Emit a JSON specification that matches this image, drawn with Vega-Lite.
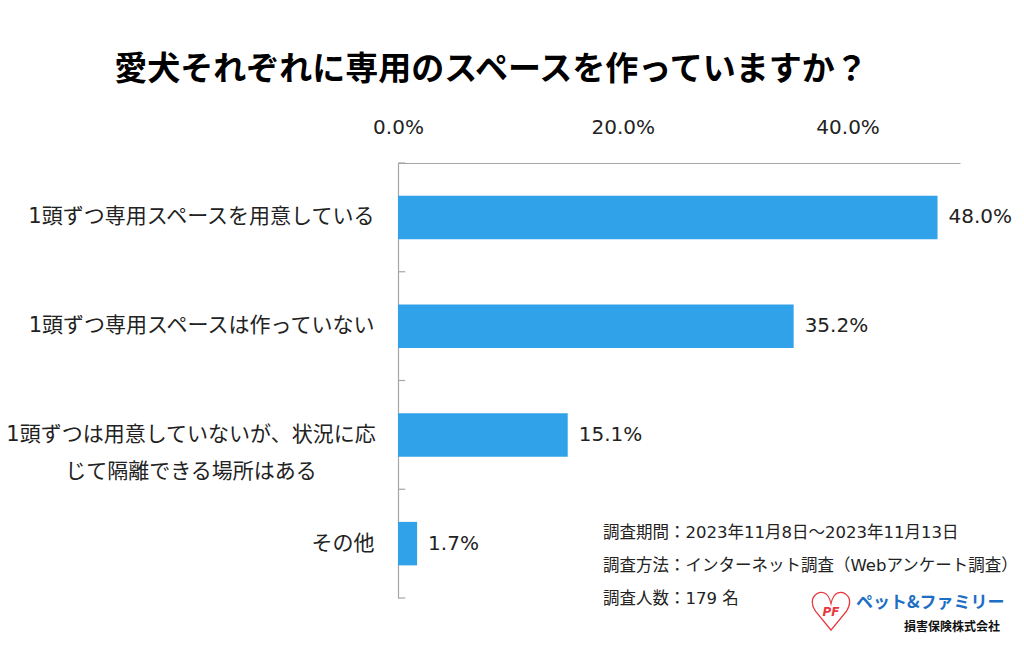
{
  "$schema": "https://vega.github.io/schema/vega-lite/v6.json",
  "width": 562,
  "height": 435,
  "autosize": "none",
  "padding": {"left": 398, "top": 163, "right": 64, "bottom": 48},
  "background": "white",
  "config": {
    "font": "DejaVu Sans, Noto Sans CJK JP",
    "view": {"stroke": null}
  },
  "title": {
    "text": "愛犬それぞれに専用のスペースを作っていますか？",
    "font": "Noto Sans CJK JP",
    "fontSize": 33,
    "fontWeight": "bold",
    "color": "#000000",
    "anchor": "middle",
    "frame": "group",
    "dx": -188,
    "offset": 30
  },
  "datasets": {
    "main": [
      {"cat": "1頭ずつ専用スペースを用意している", "disp": "", "value": 0.480},
      {"cat": "1頭ずつ専用スペースは作っていない", "disp": "", "value": 0.352},
      {"cat": "1頭ずつは用意していないが、状況に応じて隔離できる場所はある", "disp": "1頭ずつは用意していないが、状況に応\nじて隔離できる場所はある", "value": 0.151},
      {"cat": "その他", "disp": "", "value": 0.017}
    ],
    "notes": [
      {"note": "調査期間：2023年11月8日～2023年11月13日\n調査方法：インターネット調査（Webアンケート調査）\n調査人数：179 名", "brand": "ペット&ファミリー", "company": "損害保険株式会社", "heart": "♡", "pf": "PF"}
    ]
  },
  "layer": [
    {
      "data": {"name": "main"},
      "mark": {"type": "bar", "color": "#30a2e9"},
      "encoding": {
        "y": {
          "field": "cat",
          "type": "nominal",
          "sort": null,
          "scale": {"paddingInner": 0.6, "paddingOuter": 0.3},
          "axis": {
            "title": null,
            "orient": "left",
            "labelExpr": "indexof(datum.label, '状況') >= 0 ? '' : datum.label",
            "labelFont": "DejaVu Sans, Noto Sans CJK JP",
            "labelFontSize": 21,
            "labelColor": "#222222",
            "labelPadding": 24,
            "labelLimit": 400,
            "ticks": false,
            "domainColor": "#a6a6a6",
            "domainWidth": 1.2,
            "grid": false
          }
        },
        "x": {
          "field": "value",
          "type": "quantitative",
          "scale": {"domain": [0, 0.5], "nice": false},
          "axis": {
            "title": null,
            "orient": "top",
            "values": [0, 0.2, 0.4],
            "format": ".1%",
            "labelFlush": false,
            "labelFont": "DejaVu Sans",
            "labelFontSize": 20,
            "labelColor": "#222222",
            "labelPadding": 26,
            "ticks": false,
            "grid": false,
            "domainColor": "#a6a6a6",
            "domainWidth": 1.2
          }
        }
      }
    },
    {
      "data": {"name": "main"},
      "mark": {"type": "rule", "color": "#a6a6a6", "strokeWidth": 1.2},
      "encoding": {
        "y": {"field": "cat", "type": "nominal", "sort": null, "bandPosition": -0.75},
        "x": {"datum": 0, "type": "quantitative"},
        "x2": {"datum": 0.0064}
      }
    },
    {
      "data": {"name": "main"},
      "transform": [{"filter": "datum.cat == 'その他'"}],
      "mark": {"type": "rule", "color": "#a6a6a6", "strokeWidth": 1.2},
      "encoding": {
        "y": {"field": "cat", "type": "nominal", "sort": null, "bandPosition": 1.75},
        "x": {"datum": 0, "type": "quantitative"},
        "x2": {"datum": 0.0064}
      }
    },
    {
      "data": {"name": "main"},
      "mark": {"type": "text", "align": "left", "baseline": "middle", "dx": 11, "font": "DejaVu Sans", "fontSize": 20, "color": "#222222"},
      "encoding": {
        "y": {"field": "cat", "type": "nominal", "sort": null},
        "x": {"field": "value", "type": "quantitative"},
        "text": {"field": "value", "type": "quantitative", "format": ".1%"}
      }
    },
    {
      "data": {"name": "main"},
      "transform": [{"filter": "datum.disp != ''"}],
      "mark": {"type": "text", "align": "center", "baseline": "middle", "dx": -207, "font": "DejaVu Sans, Noto Sans CJK JP", "fontSize": 21, "lineBreak": "\n", "lineHeight": 37, "color": "#222222"},
      "encoding": {
        "y": {"field": "cat", "type": "nominal", "sort": null},
        "x": {"datum": 0, "type": "quantitative"},
        "text": {"field": "disp", "type": "nominal"}
      }
    },
    {
      "data": {"name": "notes"},
      "mark": {"type": "text", "align": "left", "baseline": "middle", "dy": -11, "font": "DejaVu Sans, Noto Sans CJK JP", "fontSize": 16.5, "lineBreak": "\n", "lineHeight": 33, "color": "#222222"},
      "encoding": {
        "y": {"datum": "その他", "type": "nominal"},
        "x": {"datum": 0.1824, "type": "quantitative"},
        "text": {"field": "note", "type": "nominal"}
      }
    },
    {
      "data": {"name": "notes"},
      "mark": {"type": "text", "align": "left", "baseline": "middle", "dy": 59, "font": "Noto Sans CJK JP", "fontSize": 17, "fontWeight": "bold", "color": "#1e6fc4"},
      "encoding": {
        "y": {"datum": "その他", "type": "nominal"},
        "x": {"datum": 0.4075, "type": "quantitative"},
        "text": {"field": "brand", "type": "nominal"}
      }
    },
    {
      "data": {"name": "notes"},
      "mark": {"type": "text", "align": "right", "baseline": "middle", "dy": 83, "font": "Noto Sans CJK JP", "fontSize": 12, "fontWeight": "bold", "color": "#111111"},
      "encoding": {
        "y": {"datum": "その他", "type": "nominal"},
        "x": {"datum": 0.5356, "type": "quantitative"},
        "text": {"field": "company", "type": "nominal"}
      }
    },
    {
      "data": {"name": "notes"},
      "mark": {"type": "text", "align": "center", "baseline": "middle", "dy": 71, "font": "DejaVu Sans", "fontSize": 54, "fontWeight": "bold", "color": "#e8383d"},
      "encoding": {
        "y": {"datum": "その他", "type": "nominal"},
        "x": {"datum": 0.3853, "type": "quantitative"},
        "text": {"field": "heart", "type": "nominal"}
      }
    },
    {
      "data": {"name": "notes"},
      "mark": {"type": "text", "align": "center", "baseline": "middle", "dy": 68, "font": "DejaVu Sans", "fontSize": 12, "fontWeight": "bold", "fontStyle": "italic", "color": "#e8383d"},
      "encoding": {
        "y": {"datum": "その他", "type": "nominal"},
        "x": {"datum": 0.3853, "type": "quantitative"},
        "text": {"field": "pf", "type": "nominal"}
      }
    }
  ]
}
